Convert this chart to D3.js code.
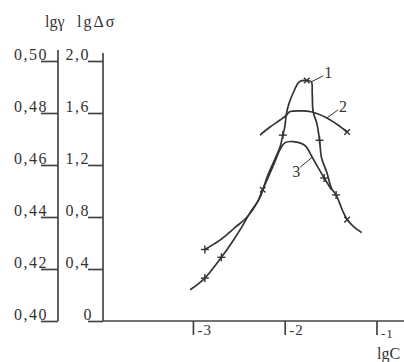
<!DOCTYPE html>
<html>
<head>
<meta charset="utf-8">
<script src="https://cdn.jsdelivr.net/npm/d3@7"></script>
<style>
  body { margin: 0; background: #fff; }
  svg text { font-family: "Liberation Serif", "DejaVu Serif", serif; fill: #333; }
</style>
</head>
<body>
<svg id="chart" width="404" height="362"></svg>
<script>
// ticks on the two vertical scales and on lgC
const gammaTicks = [0.40, 0.42, 0.44, 0.46, 0.48, 0.50];
const sigmaTicks = [0, 0.4, 0.8, 1.2, 1.6, 2.0];
const cTicks = [-3, -2, -1];

// curve 1 : lgΔσ vs lgC
const curve1C = [-3.03, -2.87, -2.69, -2.57, -2.47, -2.38, -2.27, -2.19, -2.11, -2.05, -2.02, -2.00, -1.98, -1.95, -1.91, -1.84, -1.76, -1.71, -1.70, -1.69, -1.65, -1.62, -1.60, -1.54, -1.49, -1.44, -1.37, -1.32, -1.24, -1.16];
const curve1S = [0.24, 0.33, 0.49, 0.61, 0.72, 0.83, 0.95, 1.11, 1.24, 1.34, 1.43, 1.49, 1.60, 1.68, 1.75, 1.84, 1.85, 1.84, 1.75, 1.61, 1.52, 1.39, 1.26, 1.14, 1.02, 0.97, 0.85, 0.78, 0.72, 0.68];

// curve 2 : lgγ vs lgC
const curve2C = [-2.27, -2.16, -2.05, -1.98, -1.95, -1.84, -1.70, -1.54, -1.42, -1.32];
const curve2G = [0.4715, 0.4746, 0.4773, 0.4792, 0.4804, 0.4808, 0.4804, 0.4781, 0.4754, 0.4727];

// curve 3 : lgΔσ vs lgC
const curve3C = [-2.87, -2.71, -2.54, -2.41, -2.30, -2.24, -2.19, -2.11, -2.05, -2.00, -1.91, -1.78, -1.70, -1.62, -1.57, -1.49];
const curve3S = [0.55, 0.62, 0.72, 0.80, 0.91, 1.01, 1.09, 1.22, 1.32, 1.37, 1.38, 1.35, 1.26, 1.16, 1.10, 1.01];

// experimental points (type: p = plus, x = cross)
const marks1 = [[-2.87, 0.33, "p"], [-2.69, 0.49, "p"], [-2.02, 1.43, "p"], [-1.76, 1.85, "x"], [-1.62, 1.39, "p"], [-1.44, 0.97, "p"], [-1.32, 0.78, "x"]];
const marks2 = [[-1.32, 0.4727, "x"]];
const marks3 = [[-2.87, 0.55, "p"], [-2.24, 1.01, "x"], [-1.57, 1.10, "p"]];

const svg = d3.select("#chart");
const ink = "#333";

const x = d3.scaleLinear().domain([-3.98, -0.7]).range([103, 404]);
const yS = d3.scaleLinear().domain([0, 2]).range([321, 61]);
const yG = d3.scaleLinear().domain([0.40, 0.50]).range([321, 61]);

const fmt = d => d3.format(".2f")(d).replace(".", ",");
const fmt1 = d => d === 0 ? "0" : d3.format(".1f")(d).replace(".", ",");

// lgγ axis
const gAxis = svg.append("g").attr("transform", "translate(58,0)")
  .call(d3.axisLeft(yG).tickValues(gammaTicks).tickSize(17).tickSizeOuter(0).tickFormat(fmt));
gAxis.select(".domain").remove();
gAxis.append("line").attr("x1", 0).attr("x2", 0).attr("y1", 50).attr("y2", 321);
gAxis.selectAll("text").attr("x", -10).attr("dy", "-2")
  .style("font-size", "16px").style("letter-spacing", "1.5px");

// lgΔσ axis
const sAxis = svg.append("g").attr("transform", "translate(103,0)")
  .call(d3.axisLeft(yS).tickValues(sigmaTicks).tickSize(15).tickSizeOuter(0).tickFormat(fmt1));
sAxis.select(".domain").remove();
sAxis.append("line").attr("x1", 0).attr("x2", 0).attr("y1", 53).attr("y2", 321);
sAxis.selectAll("text").attr("x", d => d === 0 ? -10 : -13).attr("dy", "-2")
  .style("font-size", "16px").style("letter-spacing", "1.5px");

// lgC axis
const cAxis = svg.append("g").attr("transform", "translate(0,321)")
  .call(d3.axisBottom(x).tickValues(cTicks).tickSize(14).tickSizeOuter(0).tickFormat(d => String(d)));
cAxis.select(".domain").remove();
cAxis.append("line").attr("x1", 103).attr("x2", 404).attr("y1", 0).attr("y2", 0);
cAxis.selectAll("text").attr("text-anchor", "start").attr("x", 4)
  .attr("y", d => d === -1 ? 17 : 14).attr("dy", 0)
  .style("font-size", d => d === -1 ? "13px" : "15px").style("letter-spacing", "1px");

svg.selectAll(".tick line, g > line").attr("stroke", "#444").attr("stroke-width", 1.7);

// axis titles
svg.append("text").attr("x", 45).attr("y", 27).style("font-size", "16px").text("lgγ");
svg.append("text").attr("x", 77).attr("y", 27).style("font-size", "16px")
  .style("letter-spacing", "2px").text("lgΔσ");
svg.append("text").attr("x", 377).attr("y", 359).style("font-size", "16px").text("lgC");

// curves
const lineS = d3.line().x(d => x(d[0])).y(d => yS(d[1])).curve(d3.curveCatmullRom.alpha(0.5));
const lineG = d3.line().x(d => x(d[0])).y(d => yG(d[1])).curve(d3.curveCatmullRom.alpha(0.5));

const c1 = curve1C.map((c, i) => [c, curve1S[i]]);
const c2 = curve2C.map((c, i) => [c, curve2G[i]]);
const c3 = curve3C.map((c, i) => [c, curve3S[i]]);

[[c1, lineS], [c2, lineG], [c3, lineS]].forEach(([data, gen]) => {
  svg.append("path").datum(data).attr("d", gen)
    .attr("fill", "none").attr("stroke", ink).attr("stroke-width", 1.7);
});

// point markers
const drawMarks = (marks, y) => {
  marks.forEach(([c, v, t]) => {
    const g = svg.append("g")
      .attr("transform", `translate(${x(c)},${y(v)}) rotate(${t === "x" ? 45 : 0})`);
    g.append("line").attr("x1", -4).attr("x2", 4).attr("y1", 0).attr("y2", 0);
    g.append("line").attr("x1", 0).attr("x2", 0).attr("y1", -4).attr("y2", 4);
    g.selectAll("line").attr("stroke", ink).attr("stroke-width", 1.4);
  });
};
drawMarks(marks1, yS);
drawMarks(marks2, yG);
drawMarks(marks3, yS);

// curve labels with leaders
const labels = [
  { t: "1", c: -1.71, v: 1.84, y: yS, dx: 12, dy: -6 },
  { t: "2", c: -1.54, v: 0.4781, y: yG, dx: 11, dy: -8 },
  { t: "3", c: -1.70, v: 1.26, y: yS, dx: -12, dy: 10 }
];
labels.forEach(l => {
  const px = x(l.c), py = l.y(l.v);
  svg.append("line").attr("x1", px).attr("y1", py).attr("x2", px + l.dx).attr("y2", py + l.dy)
    .attr("stroke", ink).attr("stroke-width", 1);
  svg.append("text").attr("x", px + l.dx + (l.dx > 0 ? 1 : -8)).attr("y", py + l.dy + (l.dy > 0 ? 10 : 2))
    .style("font-size", "16px").text(l.t);
});
</script>
</body>
</html>
